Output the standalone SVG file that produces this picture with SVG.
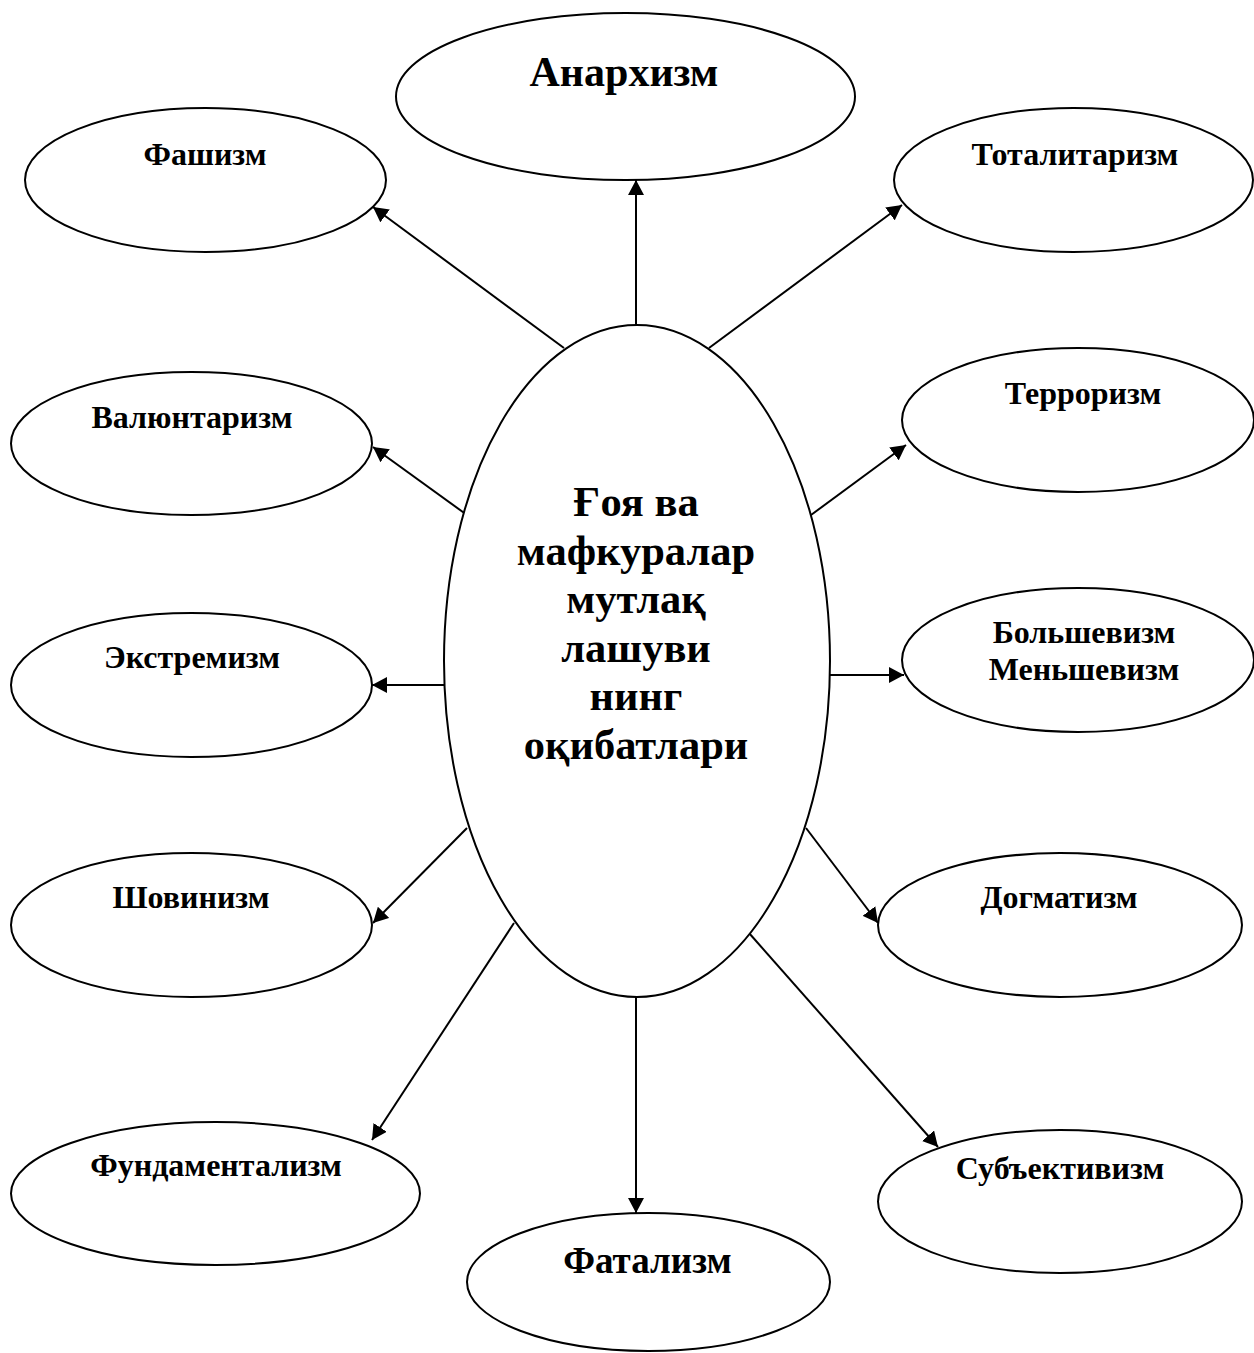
<svg xmlns="http://www.w3.org/2000/svg" width="1254" height="1353" viewBox="0 0 1254 1353">
<defs>
<style>
.n{fill:#fff;stroke:#000;stroke-width:2}
.t{font-family:"Liberation Serif","Times New Roman",serif;font-weight:bold;fill:#000;text-anchor:middle}
.s{font-size:32px}
.m{font-size:42.5px}
.c{stroke:#000;stroke-width:2;fill:none;marker-end:url(#ah)}
</style>
<marker id="ah" viewBox="0 0 15 16" refX="15" refY="8" markerWidth="15" markerHeight="16" markerUnits="userSpaceOnUse" orient="auto">
<path d="M0,0 L15,8 L0,16 z" fill="#000"/>
</marker>
</defs>
<rect width="1254" height="1353" fill="#fff"/>
<g id="connectors">
<line class="c" x1="636" y1="325" x2="636" y2="180"/>
<line class="c" x1="564" y1="348" x2="373" y2="207"/>
<line class="c" x1="709" y1="348" x2="902" y2="205"/>
<line class="c" x1="467" y1="515" x2="373" y2="447"/>
<line class="c" x1="811" y1="515" x2="906" y2="445"/>
<line class="c" x1="444" y1="685" x2="372" y2="685"/>
<line class="c" x1="830" y1="675" x2="904" y2="675"/>
<line class="c" x1="467" y1="828" x2="373" y2="923"/>
<line class="c" x1="806" y1="828" x2="878" y2="923"/>
<line class="c" x1="514" y1="923" x2="372" y2="1140"/>
<line class="c" x1="636" y1="997" x2="636" y2="1213"/>
<line class="c" x1="749" y1="933" x2="938" y2="1147"/>
</g>
<g id="center">
<ellipse class="n" cx="637" cy="661" rx="193" ry="336"/>
<text class="t m" x="636" y="516">Ғоя ва</text>
<text class="t m" x="636" y="565">мафкуралар</text>
<text class="t m" x="636" y="613">мутлақ</text>
<text class="t m" x="636" y="662">лашуви</text>
<text class="t m" x="636" y="710">нинг</text>
<text class="t m" x="636" y="759">оқибатлари</text>
</g>
<g id="n-anarhizm"><ellipse class="n" cx="625.5" cy="96.5" rx="229.5" ry="83.5"/><text class="t" style="font-size:42px" x="624" y="86">Анархизм</text></g>
<g id="n-fashizm"><ellipse class="n" cx="205.5" cy="180" rx="180.5" ry="72"/><text class="t s" x="205" y="165">Фашизм</text></g>
<g id="n-totalitarizm"><ellipse class="n" cx="1073.5" cy="180" rx="179.5" ry="72"/><text class="t s" x="1075" y="165">Тоталитаризм</text></g>
<g id="n-valuntarizm"><ellipse class="n" cx="191.5" cy="443.5" rx="180.5" ry="71.5"/><text class="t s" x="192" y="428">Валюнтаризм</text></g>
<g id="n-terrorizm"><ellipse class="n" cx="1078" cy="420" rx="176" ry="72"/><text class="t s" x="1083" y="404">Терроризм</text></g>
<g id="n-ekstremizm"><ellipse class="n" cx="191.5" cy="685" rx="180.5" ry="72"/><text class="t s" x="192" y="668">Экстремизм</text></g>
<g id="n-bolshevizm"><ellipse class="n" cx="1078" cy="660" rx="176" ry="72"/><text class="t s" x="1084" y="643">Большевизм</text><text class="t s" x="1084" y="680">Меньшевизм</text></g>
<g id="n-shovinizm"><ellipse class="n" cx="191.5" cy="925" rx="180.5" ry="72"/><text class="t s" x="191" y="908">Шовинизм</text></g>
<g id="n-dogmatizm"><ellipse class="n" cx="1060" cy="925" rx="182" ry="72"/><text class="t s" x="1059" y="908">Догматизм</text></g>
<g id="n-fundamentalizm"><ellipse class="n" cx="215.5" cy="1193.5" rx="204.5" ry="71.5"/><text class="t s" x="216" y="1176">Фундаментализм</text></g>
<g id="n-fatalizm"><ellipse class="n" cx="648.5" cy="1282" rx="181.5" ry="69"/><text class="t" style="font-size:37px" x="647.5" y="1273">Фатализм</text></g>
<g id="n-subyektivizm"><ellipse class="n" cx="1060" cy="1201.5" rx="182" ry="71.5"/><text class="t s" x="1060" y="1179">Субъективизм</text></g>
</svg>
